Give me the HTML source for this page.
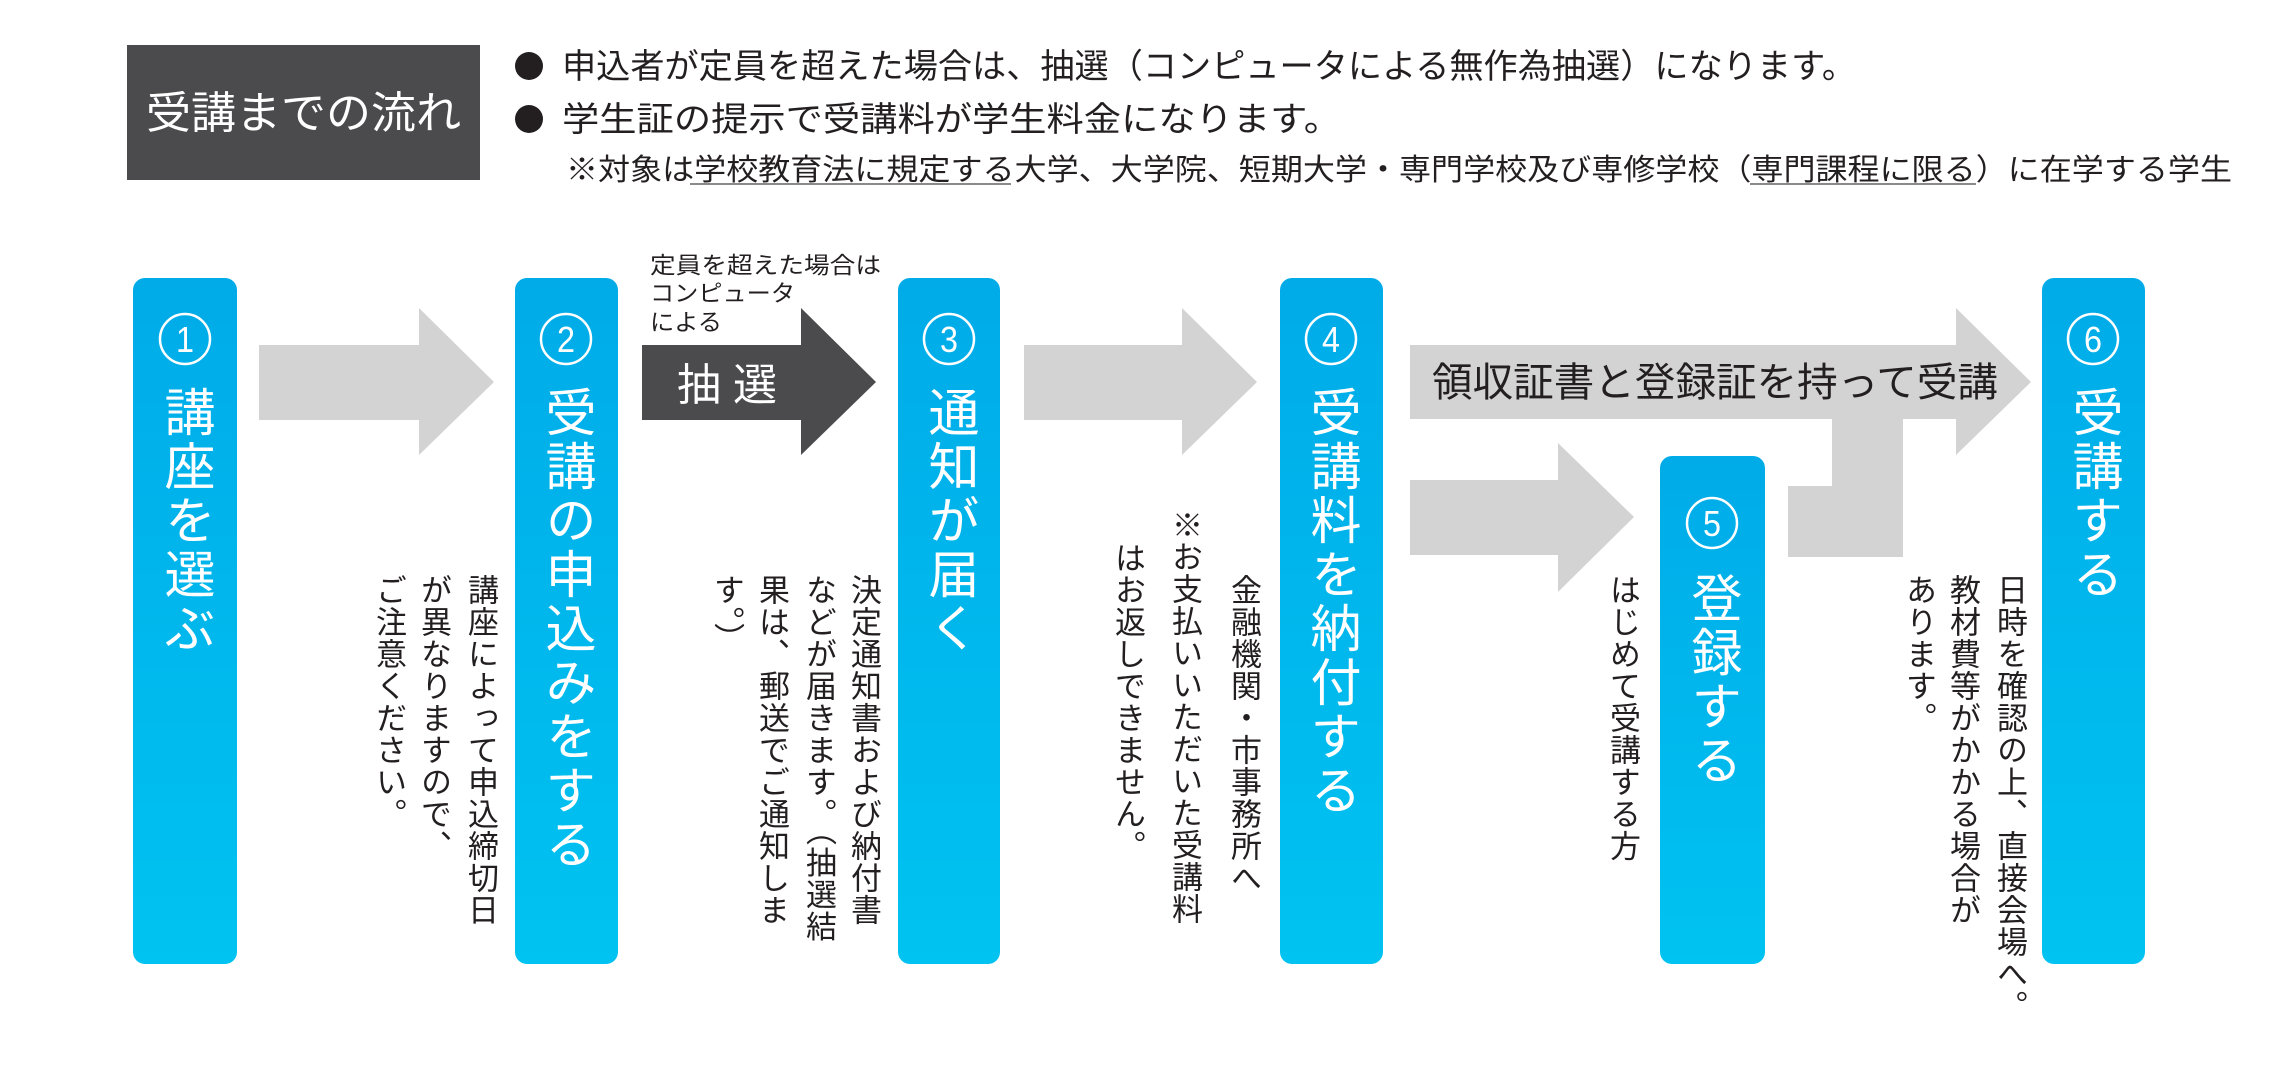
<!DOCTYPE html>
<html><head><meta charset="utf-8">
<style>
html,body{margin:0;padding:0;background:#fff;}
body{width:2288px;height:1073px;position:relative;overflow:hidden;font-family:"Liberation Sans","Noto Sans CJK JP",sans-serif;}
svg{position:absolute;left:0;top:0;}
.v{position:absolute;writing-mode:vertical-rl;font-family:"Liberation Sans","Noto Sans CJK JP",sans-serif;white-space:nowrap;line-height:1;}
.d{font-size:31px;letter-spacing:1px;color:#231f20;width:31px;}
.t{font-size:51px;letter-spacing:3px;color:#fff;width:51px;}
</style></head><body>
<svg width="2288" height="1073" viewBox="0 0 2288 1073" xmlns="http://www.w3.org/2000/svg">
<defs>
<linearGradient id="bl" x1="0" y1="0" x2="0" y2="1">
<stop offset="0" stop-color="#00abe8"/><stop offset="1" stop-color="#00c3f1"/>
</linearGradient>
</defs>
<!-- header -->
<rect x="127" y="45" width="353" height="135" fill="#4b4a4c"/>
<text x="146" y="128" font-size="44" fill="#fff" font-family="Liberation Sans, Noto Sans CJK JP, sans-serif" textLength="315" lengthAdjust="spacingAndGlyphs">受講までの流れ</text>
<circle cx="529" cy="66" r="14" fill="#231f20"/>
<circle cx="529" cy="119" r="14" fill="#231f20"/>
<g font-family="Liberation Sans, Noto Sans CJK JP, sans-serif" fill="#231f20">
<text x="562" y="78" font-size="34" textLength="1294" lengthAdjust="spacingAndGlyphs">申込者が定員を超えた場合は、抽選（コンピュータによる無作為抽選）になります。</text>
<text x="562" y="131" font-size="34" textLength="779" lengthAdjust="spacingAndGlyphs">学生証の提示で受講料が学生料金になります。</text>
<text x="566" y="180" font-size="30" textLength="1666" lengthAdjust="spacingAndGlyphs">※対象は学校教育法に規定する大学、大学院、短期大学・専門学校及び専修学校（専門課程に限る）に在学する学生</text>
</g>
<line x1="690" y1="184" x2="1011" y2="184" stroke="#8a8a8a" stroke-width="2"/>
<line x1="1750" y1="184" x2="1976" y2="184" stroke="#8a8a8a" stroke-width="2"/>

<!-- arrows -->
<polygon points="259,345 419,345 419,308 494,382 419,455 419,420 259,420" fill="#d3d3d3"/>
<polygon points="642,345 801,345 801,308 876,382 801,455 801,420 642,420" fill="#4b4a4c"/>
<polygon points="1024,345 1182,345 1182,308 1257,382 1182,455 1182,420 1024,420" fill="#d3d3d3"/>
<polygon points="1410,345 1956,345 1956,308 2031,382 1956,455 1956,419 1410,419" fill="#d3d3d3"/>
<polygon points="1832,418 1903,418 1903,557 1788,557 1788,486 1832,486" fill="#d3d3d3"/>
<polygon points="1410,480 1558,480 1558,443 1634,517 1558,592 1558,555 1410,555" fill="#d3d3d3"/>

<text x="677" y="400" font-size="44" fill="#fff" font-family="Liberation Sans, Noto Sans CJK JP, sans-serif" textLength="100" lengthAdjust="spacing">抽選</text>
<g font-family="Liberation Sans, Noto Sans CJK JP, sans-serif" fill="#231f20" font-size="23">
<text x="650" y="273" textLength="231" lengthAdjust="spacingAndGlyphs">定員を超えた場合は</text>
<text x="650" y="301" textLength="145" lengthAdjust="spacingAndGlyphs">コンピュータ</text>
<text x="650" y="330" textLength="72" lengthAdjust="spacingAndGlyphs">による</text>
</g>
<text x="1432" y="396" font-size="40" fill="#231f20" font-family="Liberation Sans, Noto Sans CJK JP, sans-serif" textLength="566" lengthAdjust="spacingAndGlyphs">領収証書と登録証を持って受講</text>

<!-- boxes -->
<rect x="133" y="278" width="104" height="686" rx="12" fill="url(#bl)"/>
<rect x="515" y="278" width="103" height="686" rx="12" fill="url(#bl)"/>
<rect x="898" y="278" width="102" height="686" rx="12" fill="url(#bl)"/>
<rect x="1280" y="278" width="103" height="686" rx="12" fill="url(#bl)"/>
<rect x="1660" y="456" width="105" height="508" rx="12" fill="url(#bl)"/>
<rect x="2042" y="278" width="103" height="686" rx="12" fill="url(#bl)"/>

<g fill="none" stroke="#fff" stroke-width="2.5">
<circle cx="185" cy="339" r="25"/>
<circle cx="566" cy="339" r="25"/>
<circle cx="949" cy="339" r="25"/>
<circle cx="1331" cy="339" r="25"/>
<circle cx="1712" cy="523" r="25"/>
<circle cx="2093" cy="339" r="25"/>
</g>
<g fill="#fff" font-family="Liberation Sans, sans-serif" font-size="36" text-anchor="middle">
<text x="185" y="352" textLength="18" lengthAdjust="spacingAndGlyphs">1</text>
<text x="566" y="352" textLength="18" lengthAdjust="spacingAndGlyphs">2</text>
<text x="949" y="352" textLength="18" lengthAdjust="spacingAndGlyphs">3</text>
<text x="1331" y="352" textLength="18" lengthAdjust="spacingAndGlyphs">4</text>
<text x="1712" y="536" textLength="18" lengthAdjust="spacingAndGlyphs">5</text>
<text x="2093" y="352" textLength="18" lengthAdjust="spacingAndGlyphs">6</text>
</g>
</svg>

<!-- titles -->
<div class="v t" style="left:160px;top:386px;">講座を選ぶ</div>
<div class="v t" style="left:541px;top:386px;">受講の申込みをする</div>
<div class="v t" style="left:924px;top:386px;">通知が届く</div>
<div class="v t" style="left:1306px;top:386px;">受講料を納付する</div>
<div class="v t" style="left:1687px;top:572px;">登録する</div>
<div class="v t" style="left:2068px;top:386px;">受講する</div>

<!-- descriptions -->
<div class="v d" style="left:465px;top:574px;">講座によって申込締切日</div>
<div class="v d" style="left:418px;top:574px;">が異なりますので、</div>
<div class="v d" style="left:373px;top:574px;">ご注意ください。</div>

<div class="v d" style="left:848px;top:574px;">決定通知書および納付書</div>
<div class="v d" style="left:803px;top:574px;">などが届きます。（抽選結</div>
<div class="v d" style="left:756px;top:574px;">果は、郵送でご通知しま</div>
<div class="v d" style="left:711px;top:574px;">す。）</div>

<div class="v d" style="left:1228px;top:574px;">金融機関・市事務所へ</div>
<div class="v d" style="left:1169px;top:509px;">※お支払いいただいた受講料</div>
<div class="v d" style="left:1112px;top:542px;">はお返しできません。</div>

<div class="v d" style="left:1607px;top:574px;">はじめて受講する方</div>

<div class="v d" style="left:1994px;top:574px;">日時を確認の上、直接会場へ。</div>
<div class="v d" style="left:1947px;top:574px;">教材費等がかかる場合が</div>
<div class="v d" style="left:1903px;top:574px;">あります。</div>
</body></html>
